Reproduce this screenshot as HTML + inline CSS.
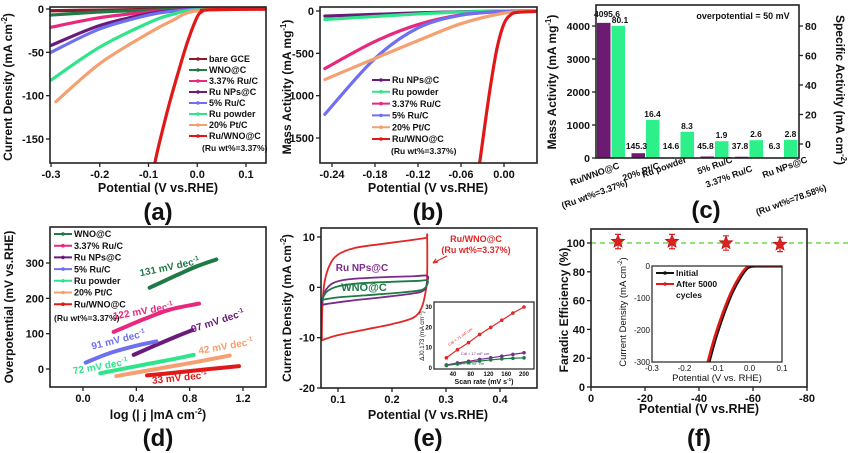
<!DOCTYPE html>
<html><head><meta charset="utf-8"><style>
html,body{margin:0;padding:0;background:#fff;}
svg{display:block;font-family:"Liberation Sans",Arial,sans-serif;font-weight:bold;}
</style></head><body>
<svg id="fig" width="848" height="453" viewBox="0 0 848 453" xmlns="http://www.w3.org/2000/svg">
<rect x="0" y="0" width="848" height="453" fill="#fff"/>
</svg>
<script>
// ---------- Panel (a) data ----------
const aSeries = ["bare GCE","WNO@C","3.37% Ru/C","Ru NPs@C","5% Ru/C","Ru powder","20% Pt/C","Ru/WNO@C"];
const aColors = ["#8b1a2a","#1f7a45","#e8287f","#6a1b7a","#6f6ff0","#2ee58a","#f4a070","#e01818"];
const aPotentials = [
 [-0.3,-0.2,-0.1,0,0.14],
 [-0.3,-0.2,-0.1,0,0.14],
 [-0.3,-0.2,-0.1,-0.05,0,0.14],
 [-0.3,-0.2,-0.1,-0.05,0,0.14],
 [-0.3,-0.2,-0.1,-0.05,0,0.14],
 [-0.3,-0.2,-0.1,-0.05,0,0.14],
 [-0.29,-0.2,-0.1,-0.05,0,0.14],
 [-0.087,-0.08,-0.06,-0.04,-0.02,0,0.01,0.02,0.14]];
const aCurrents = [
 [-2,-1.2,-0.6,-0.2,0],
 [-7,-3.5,-1.5,-0.3,0],
 [-21,-10,-3.5,-1.5,-0.3,0],
 [-42,-19,-5.5,-2,-0.3,0],
 [-50,-23,-7,-2.5,-0.4,0],
 [-82,-44,-16,-6,-1,0],
 [-107,-63,-28,-13,-2,0],
 [-178,-160,-115,-75,-38,-9,-3,-1,0]];
const aXTicks = [-0.3,-0.2,-0.1,0.0,0.1];
const aYTicks = [0,-50,-100,-150];

// ---------- Panel (b) data ----------
const bSeries = ["Ru NPs@C","Ru powder","3.37% Ru/C","5% Ru/C","20% Pt/C","Ru/WNO@C"];
const bColors = ["#6a1b7a","#2ee58a","#e8287f","#6f6ff0","#f4a070","#e01818"];
const bPotentials = [
 [-0.25,-0.18,-0.12,-0.06,0,0.046],
 [-0.25,-0.18,-0.12,-0.06,0,0.046],
 [-0.25,-0.18,-0.12,-0.06,0,0.046],
 [-0.25,-0.18,-0.12,-0.06,0,0.046],
 [-0.25,-0.18,-0.12,-0.06,0,0.046],
 [-0.034,-0.03,-0.02,-0.01,0,0.01,0.02,0.046]];
const bActivities = [
 [-60,-40,-22,-8,-1,0],
 [-100,-65,-35,-12,-2,0],
 [-680,-360,-160,-45,-6,0],
 [-1220,-560,-200,-50,-5,0],
 [-810,-560,-350,-150,-25,0],
 [-1795,-1550,-950,-450,-150,-40,-15,-5]];
const bXTicks = [-0.24,-0.18,-0.12,-0.06,0.00];
const bYTicks = [0,-500,-1000,-1500];

// ---------- Panel (c) data ----------
const cCategories = ["Ru/WNO@C","20% Pt/C","Ru powder","5% Ru/C","3.37% Ru/C","Ru NPs@C"];
const cMass = [4095.6,145.3,14.6,45.8,37.8,6.3];
const cSpecific = [80.1,16.4,8.3,1.9,2.6,2.8];
const cMassLabels = ["4095.6","145.3","14.6","45.8","37.8","6.3"];
const cSpecLabels = ["80.1","16.4","8.3","1.9","2.6","2.8"];
const cLeftTicks = [0,1000,2000,3000,4000];
const cRightTicks = [0,20,40,60,80];

// ---------- Panel (d) data ----------
const dSeries = ["WNO@C","3.37% Ru/C","Ru NPs@C","5% Ru/C","Ru powder","20% Pt/C","Ru/WNO@C"];
const dColors = ["#1f7a45","#e8287f","#6a1b7a","#6f6ff0","#2ee58a","#f4a070","#e01818"];
const dLogJ = [
 [0.5,0.7,0.85,1.0],
 [0.23,0.45,0.65,0.87],
 [0.38,0.55,0.7,0.82],
 [0.02,0.2,0.4,0.55],
 [0.13,0.4,0.65,0.83],
 [0.25,0.55,0.85,1.1],
 [0.48,0.7,0.95,1.17]];
const dEta = [
 [230,265,290,310],
 [105,140,168,185],
 [40,68,92,110],
 [18,45,66,78],
 [-12,8,26,40],
 [-20,0,20,38],
 [-18,-10,0,8]];
const dSlopeLabels = ["131 mV dec","122 mV dec","97 mV dec","91 mV dec","72 mV dec","42 mV dec","33 mV dec"];
const dLabelX = [0.43,0.23,0.82,0.07,-0.07,0.87,0.52];
const dLabelY = [262,140,103,55,-15,42,-42];
const dLabelAngle = [-12,-10,-18,-14,-10,-10,-6];
const dXTicks = [0.0,0.4,0.8,1.2];
const dYTicks = [0,100,200,300];

// ---------- Panel (e) data ----------
const eSeries = ["Ru/WNO@C","Ru NPs@C","WNO@C"];
const eColors = ["#e02828","#7a2a8a","#1f7a45"];
const ePotentials = [
 [0.07,0.071,0.075,0.085,0.1,0.13,0.18,0.23,0.262,0.265,0.265,0.262,0.255,0.24,0.2,0.15,0.1,0.07,0.07],
 [0.07,0.075,0.09,0.12,0.18,0.24,0.265,0.265,0.26,0.24,0.18,0.12,0.08,0.07],
 [0.07,0.08,0.1,0.14,0.2,0.25,0.265,0.265,0.255,0.22,0.15,0.1,0.075,0.07]];
const eCurrents = [
 [-10.5,-4,1,4.5,6.5,7.8,8.6,9.3,9.8,10,2,-1,-4,-6,-7.3,-8.4,-9.5,-10.5,-10.5],
 [-3.5,-1,0.8,1.6,2,2.2,2.3,1,-0.5,-1.2,-2,-2.7,-3.3,-3.5],
 [-2.5,-0.8,0.2,0.8,1.1,1.3,1.4,0.5,-0.5,-1,-1.6,-2,-2.4,-2.5]];
const eXTicks = [0.1,0.2,0.3,0.4];
const eYTicks = [10,0,-10,-20];
const eScanRates = [25,50,75,100,125,150,175,200];
const eDeltaJ = [
 [5,9,12.5,16.5,20,23.5,27,30],
 [1.5,2.5,3.3,4.2,5,5.8,6.7,7.5],
 [1.2,2,2.7,3.4,4,4.5,4.8,5]];
const eInsetXTicks = [40,80,120,160,200];
const eInsetYTicks = [0,10,20,30];
const eCdlLabels = ["Cdl = 71 mF cm","Cdl = 17 mF cm","Cdl = 10 mF cm"];

// ---------- Panel (f) data ----------
const fPotentials = [-10,-30,-50,-70];
const fEfficiency = [101,101,100,99];
const fErrors = [5,5,5,5];
const fXTicks = [0,-20,-40,-60,-80];
const fYTicks = [0,20,40,60,80,100];
const fInsetSeries = ["Initial","After 5000 cycles"];
const fInsetColors = ["#111","#e01818"];
const fInsetPot = [
 [-0.122,-0.1,-0.075,-0.05,-0.025,-0.005,0.01,0.03,0.1],
 [-0.127,-0.105,-0.08,-0.055,-0.03,-0.01,0.005,0.03,0.1]];
const fInsetCur = [
 [-300,-220,-145,-82,-35,-8,-1,0,0],
 [-300,-220,-145,-82,-35,-8,-1,0,0]];
const fInsetXTicks = [-0.3,-0.2,-0.1,0.0,0.1];
const fInsetYTicks = [0,-100,-200,-300];

// ---------- helpers ----------
const NS = "http://www.w3.org/2000/svg";
const svg = document.getElementById('fig');
function mk(tag, attrs, parent, name, inter) {
  const el = document.createElementNS(NS, tag);
  for (const k in attrs) el.setAttribute(k, attrs[k]);
  
  
  (parent || svg).appendChild(el);
  return el;
}
function txt(x, y, s, size, opts, name) {
  opts = opts || {};
  const a = {x:x, y:y, 'font-size':size, fill:opts.fill||'#111', 'text-anchor':opts.anchor||'middle'};
  if (opts.transform) a.transform = opts.transform;
  if (opts.weight) a['font-weight'] = opts.weight;
  const t = mk('text', a, opts.parent, name || 'label');
  t.textContent = s;
  if (opts.sup) {
    const sp = mk('tspan', {'font-size': size*0.65, dy: -size*0.4}, t, 'superscript');
    sp.textContent = opts.sup;
    if (opts.after) { const af = mk('tspan', {dy: size*0.4}, t, 'label-suffix'); af.textContent = opts.after; }
  }
  return t;
}
function scale(d0, d1, r0, r1) { return v => r0 + (v - d0) * (r1 - r0) / (d1 - d0); }
function smoothPath(pts) {
  if (pts.length < 3) return 'M' + pts.map(p => p.join(',')).join('L');
  let d = 'M' + pts[0][0] + ',' + pts[0][1];
  for (let i = 0; i < pts.length - 1; i++) {
    const p0 = pts[i-1] || pts[i], p1 = pts[i], p2 = pts[i+1], p3 = pts[i+2] || p2;
    const c1 = [p1[0] + (p2[0]-p0[0])/6, p1[1] + (p2[1]-p0[1])/6];
    const c2 = [p2[0] - (p3[0]-p1[0])/6, p2[1] - (p3[1]-p1[1])/6];
    d += 'C' + c1.join(',') + ' ' + c2.join(',') + ' ' + p2.join(',');
  }
  return d;
}
let clipId = 0;
function frame(box, name) {
  const id = 'clip' + (clipId++);
  const defs = mk('defs', {}, svg, 'clip-defs');
  const cp = mk('clipPath', {id:id}, defs, 'clip-path');
  mk('rect', {x:box.x0, y:box.y0, width:box.x1-box.x0, height:box.y1-box.y0}, cp, 'clip-rect');
  const g = mk('g', {'clip-path':'url(#'+id+')'}, svg, name + '-plot-area');
  return g;
}
function border(box, name, w) {
  mk('rect', {x:box.x0, y:box.y0, width:box.x1-box.x0, height:box.y1-box.y0, fill:'none', stroke:'#222', 'stroke-width':w||1.6}, svg, name + '-frame');
}
function xTicks(box, sx, ticks, fmt, size, name) {
  ticks.forEach(t => {
    const x = sx(t);
    mk('line', {x1:x, x2:x, y1:box.y1, y2:box.y1+4, stroke:'#222', 'stroke-width':1.3}, svg, name + '-x-tick');
    txt(x, box.y1 + size + 4, fmt(t), size, {}, name + '-x-tick-label');
  });
}
function yTicks(box, sy, ticks, fmt, size, name, right) {
  ticks.forEach(t => {
    const y = sy(t);
    const x = right ? box.x1 : box.x0;
    mk('line', {x1:x, x2: right ? x+4 : x-4, y1:y, y2:y, stroke:'#222', 'stroke-width':1.3}, svg, name + '-y-tick');
    txt(right ? x+6 : x-6, y + size*0.36, fmt(t), size, {anchor: right ? 'start' : 'end'}, name + '-y-tick-label');
  });
}
function legendEntry(x, y, color, label, size, name) {
  mk('line', {x1:x, x2:x+18, y1:y, y2:y, stroke:color, 'stroke-width':2}, svg, name + '-legend-line');
  mk('circle', {cx:x+9, cy:y, r:1.8, fill:color}, svg, name + '-legend-marker');
  txt(x+20, y+size*0.36, label, size, {anchor:'start'}, name + '-legend-text');
}

// ================= Panel (a) =================
(function(){
  const box = {x0:50, x1:266, y0:7, y1:163};
  const sx = scale(-0.3, 0.1, 51, 246);
  const sy = scale(0, -150, 9, 139);
  const g = frame(box, 'panel-a');
  aSeries.forEach((s, i) => {
    const pts = aPotentials[i].map((p, j) => [sx(p), sy(aCurrents[i][j])]);
    mk('path', {d:smoothPath(pts), fill:'none', stroke:aColors[i], 'stroke-width':3.2, 'stroke-linecap':'round'}, g, 'panel-a-curve');
  });
  border(box, 'panel-a');
  xTicks(box, sx, aXTicks, t => t === 0 ? '0.0' : t.toFixed(1), 11, 'panel-a');
  yTicks(box, sy, aYTicks, t => String(t), 11, 'panel-a');
  aSeries.forEach((s, i) => legendEntry(189, 59 + i*11, aColors[i], s, 9, 'panel-a'));
  txt(202, 151, '(Ru wt%=3.37%)', 8.5, {anchor:'start'}, 'panel-a-legend-note');
  txt(12, 87, 'Current Density (mA cm', 12, {transform:'rotate(-90 12 87)', sup:'-2', after:')'}, 'panel-a-y-axis-title');
  txt(158, 192, 'Potential (V vs.RHE)', 12.5, {}, 'panel-a-x-axis-title');
  txt(158, 220, '(a)', 24, {}, 'panel-a-letter');
})();

// ================= Panel (b) =================
(function(){
  const box = {x0:320, x1:537, y0:7, y1:163};
  const sx = scale(-0.24, 0, 332, 504);
  const sy = scale(0, -1500, 11, 138);
  const g = frame(box, 'panel-b');
  bSeries.forEach((s, i) => {
    const pts = bPotentials[i].map((p, j) => [sx(p), sy(bActivities[i][j])]);
    mk('path', {d:smoothPath(pts), fill:'none', stroke:bColors[i], 'stroke-width':3.2, 'stroke-linecap':'round'}, g, 'panel-b-curve');
  });
  border(box, 'panel-b');
  xTicks(box, sx, bXTicks, t => t.toFixed(2), 11, 'panel-b');
  yTicks(box, sy, bYTicks, t => String(t), 11, 'panel-b');
  bSeries.forEach((s, i) => legendEntry(372, 80 + i*11.8, bColors[i], s, 9, 'panel-b'));
  txt(391, 154, '(Ru wt%=3.37%)', 8.5, {anchor:'start'}, 'panel-b-legend-note');
  txt(291, 87, 'Mass Activity (mA mg', 12, {transform:'rotate(-90 291 87)', sup:'-1', after:')'}, 'panel-b-y-axis-title');
  txt(428, 192, 'Potential (V vs.RHE)', 12.5, {}, 'panel-b-x-axis-title');
  txt(428, 220, '(b)', 24, {}, 'panel-b-letter');
})();

// ================= Panel (c) =================
(function(){
  const box = {x0:596, x1:799, y0:5, y1:158};
  const syL = scale(0, 4000, 158, 26);
  const syR = scale(0, 80, 144, 26);
  const cx = i => 611 + i*34.5;
  cCategories.forEach((c, i) => {
    const yP = syL(cMass[i]);
    mk('rect', {x:cx(i)-14, y:yP, width:13.5, height:box.y1-yP, fill:'#6d1a72'}, svg, 'mass-activity-bar');
    const yG = syR(cSpecific[i]);
    mk('rect', {x:cx(i)+0.5, y:yG, width:13.5, height:box.y1-yG, fill:'#2ef08a'}, svg, 'specific-activity-bar');
    txt(i === 0 ? cx(i)-4 : cx(i)-9, (i === 0 ? 17 : Math.min(yP, 152) - 3), cMassLabels[i], 8.5, {}, 'mass-value-label');
    txt(i === 0 ? cx(i)+9 : cx(i)+7, yG - 3, cSpecLabels[i], 8.5, {}, 'specific-value-label');
  });
  border(box, 'panel-c');
  yTicks(box, syL, cLeftTicks, t => String(t), 10.5, 'panel-c-left');
  yTicks(box, syR, cRightTicks, t => String(t), 10.5, 'panel-c-right', true);
  txt(743, 19, 'overpotential = 50 mV', 9, {}, 'overpotential-note');
  txt(556, 82, 'Mass Activity (mA mg', 12, {transform:'rotate(-90 556 82)', sup:'-1', after:')'}, 'panel-c-left-axis-title');
  txt(836, 90, 'Specific Activity (mA cm', 12, {transform:'rotate(90 836 90)', sup:'-2', after:')'}, 'panel-c-right-axis-title');
  const cl = [[620,168,'Ru/WNO@C'],[628,185,'(Ru wt%=3.37%)'],[660,168,'20% Pt/C'],[687,162,'Ru powder'],[733,162,'5% Ru/C'],[753,171,'3.37% Ru/C'],[808,162,'Ru NPs@C'],[827,190,'(Ru wt%=78.58%)']];
  cl.forEach(l => txt(l[0], l[1], l[2], 9, {anchor:'end', transform:'rotate(-20 '+l[0]+' '+l[1]+')'}, 'category-label'));
  txt(706, 218, '(c)', 24, {}, 'panel-c-letter');
})();

// ================= Panel (d) =================
(function(){
  const box = {x0:50, x1:266, y0:227, y1:387};
  const sx = scale(0, 1.2, 83, 243);
  const sy = scale(0, 300, 369, 263);
  const g = frame(box, 'panel-d');
  dSeries.forEach((s, i) => {
    const pts = dLogJ[i].map((p, j) => [sx(p), sy(dEta[i][j])]);
    mk('path', {d:smoothPath(pts), fill:'none', stroke:dColors[i], 'stroke-width':4, 'stroke-linecap':'round'}, g, 'tafel-line');
    const lx = sx(dLabelX[i]), ly = sy(dLabelY[i]);
    txt(lx, ly, dSlopeLabels[i], 10, {anchor:'start', fill:dColors[i], transform:'rotate('+dLabelAngle[i]+' '+lx+' '+ly+')', sup:'-1', parent:g}, 'tafel-slope-label');
  });
  border(box, 'panel-d');
  xTicks(box, sx, dXTicks, t => t.toFixed(1), 11, 'panel-d');
  yTicks(box, sy, dYTicks, t => String(t), 11, 'panel-d');
  dSeries.forEach((s, i) => legendEntry(54, 234 + i*11.7, dColors[i], s, 9, 'panel-d'));
  txt(54, 321, '(Ru wt%=3.37%)', 8.5, {anchor:'start'}, 'panel-d-legend-note');
  txt(13, 307, 'Overpotential (mV vs.RHE)', 12, {transform:'rotate(-90 13 307)'}, 'panel-d-y-axis-title');
  txt(158, 419, 'log (| j |mA cm', 12.5, {sup:'-2', after:')'}, 'panel-d-x-axis-title');
  txt(158, 446, '(d)', 24, {}, 'panel-d-letter');
})();

// ================= Panel (e) =================
(function(){
  const box = {x0:321, x1:537, y0:228, y1:388};
  const sx = scale(0.1, 0.4, 338, 500);
  const sy = scale(10, -20, 237, 388);
  const g = frame(box, 'panel-e');
  eSeries.forEach((s, i) => {
    const pts = ePotentials[i].map((p, j) => [sx(p), sy(eCurrents[i][j])]);
    mk('path', {d:smoothPath(pts), fill:'none', stroke:eColors[i], 'stroke-width':1.8}, g, 'cv-curve');
  });
  border(box, 'panel-e');
  xTicks(box, sx, eXTicks, t => t.toFixed(1), 11, 'panel-e');
  yTicks(box, sy, eYTicks, t => String(t), 11, 'panel-e');
  txt(476, 242, 'Ru/WNO@C', 9, {fill:'#e02828'}, 'cv-label-ru-wno');
  txt(476, 253, '(Ru wt%=3.37%)', 9, {fill:'#e02828'}, 'cv-label-ru-wno-note');
  mk('path', {d:'M447,256 L433,263 M433,263 l5,-1 M433,263 l3,-4', stroke:'#e02828', 'stroke-width':1.2, fill:'none'}, svg, 'cv-label-arrow');
  txt(362, 271, 'Ru NPs@C', 10, {fill:'#7a2a8a'}, 'cv-label-ru-nps');
  txt(364, 291, 'WNO@C', 11, {fill:'#1f7a45'}, 'cv-label-wno');
  // inset
  const ib = {x0:434, x1:534, y0:302, y1:369};
  mk('rect', {x:ib.x0, y:ib.y0, width:100, height:67, fill:'#fff'}, svg, 'inset-e-background');
  const ix = scale(40, 200, 453, 524);
  const iy = scale(0, 30, 368, 307);
  eDeltaJ.forEach((arr, i) => {
    const pts = eScanRates.map((r, j) => [ix(r), iy(arr[j])]);
    mk('polyline', {points:pts.map(p => p.join(',')).join(' '), fill:'none', stroke:eColors[i], 'stroke-width':1.2}, svg, 'inset-e-fit-line');
    pts.forEach(p => mk('circle', {cx:p[0], cy:p[1], r:1.8, fill:eColors[i]}, svg, 'inset-e-point'));
  });
  border(ib, 'inset-e', 1.2);
  eInsetXTicks.forEach(t => txt(ix(t), ib.y1 + 7, String(t), 6, {}, 'inset-e-x-tick-label'));
  eInsetYTicks.forEach(t => txt(ib.x0 - 2, iy(t) + 2, String(t), 6, {anchor:'end'}, 'inset-e-y-tick-label'));
  txt(484, 384, 'Scan rate (mV s', 7, {sup:'-1', after:')'}, 'inset-e-x-axis-title');
  txt(424, 336, 'ΔJ0.173 (mA cm', 6, {transform:'rotate(-90 424 336)', weight:'normal', sup:'-2', after:')'}, 'inset-e-y-axis-title');
  txt(461, 338, eCdlLabels[0], 4, {fill:eColors[0], transform:'rotate(-35 461 338)', weight:'normal'}, 'inset-e-cdl-label');
  txt(475, 355, eCdlLabels[1], 4, {fill:eColors[1], weight:'normal'}, 'inset-e-cdl-label');
  txt(470, 365, eCdlLabels[2], 4, {fill:eColors[2], weight:'normal'}, 'inset-e-cdl-label');
  txt(291, 308, 'Current Density (mA cm', 12, {transform:'rotate(-90 291 308)', sup:'-2', after:')'}, 'panel-e-y-axis-title');
  txt(428, 419, 'Potential (V vs.RHE)', 12.5, {}, 'panel-e-x-axis-title');
  txt(428, 446, '(e)', 24, {}, 'panel-e-letter');
})();

// ================= Panel (f) =================
(function(){
  const box = {x0:591, x1:807, y0:229, y1:387};
  const sx = scale(0, -80, 591, 807);
  const sy = scale(0, 100, 387, 243);
  mk('line', {x1:box.x0, x2:848, y1:sy(100), y2:sy(100), stroke:'#6fdc4a', 'stroke-width':1.6, 'stroke-dasharray':'5,4'}, svg, 'reference-100-line');
  border(box, 'panel-f');
  xTicks(box, sx, fXTicks, t => String(t), 11, 'panel-f');
  yTicks(box, sy, fYTicks, t => String(t), 11, 'panel-f');
  fPotentials.forEach((p, i) => {
    const x = sx(p), y = sy(fEfficiency[i]);
    const yt = sy(fEfficiency[i] + fErrors[i]), yb = sy(fEfficiency[i] - fErrors[i]);
    mk('path', {d:'M'+x+','+yt+'V'+yb+'M'+(x-3)+','+yt+'H'+(x+3)+'M'+(x-3)+','+yb+'H'+(x+3), stroke:'#e02020', 'stroke-width':1.2, fill:'none'}, svg, 'efficiency-error-bar');
    const star = [];
    for (let k = 0; k < 10; k++) {
      const r = k % 2 === 0 ? 7 : 3;
      const a = -Math.PI/2 + k*Math.PI/5;
      star.push((x + r*Math.cos(a)).toFixed(1) + ',' + (y + r*Math.sin(a)).toFixed(1));
    }
    mk('polygon', {points:star.join(' '), fill:'#e02020', stroke:'#b01010', 'stroke-width':0.6}, svg, 'efficiency-star');
  });
  // inset
  const ib = {x0:652, x1:782, y0:266, y1:362};
  const ix = scale(-0.3, 0.1, 652, 782);
  const iy = scale(0, -300, 266, 362);
  const g = frame(ib, 'inset-f');
  [1, 0].forEach(i => {
    const pts = fInsetPot[i].map((p, j) => [ix(p), iy(fInsetCur[i][j])]);
    mk('path', {d:smoothPath(pts), fill:'none', stroke:fInsetColors[i], 'stroke-width':i === 1 ? 3.5 : 1.4}, g, 'inset-f-curve');
  });
  border(ib, 'inset-f', 1.2);
  fInsetXTicks.forEach(t => txt(ix(t), ib.y1 + 9, t === 0 ? '0.0' : t.toFixed(1), 8, {weight:'normal'}, 'inset-f-x-tick-label'));
  fInsetYTicks.forEach(t => txt(ib.x0 - 2, iy(t) + 3, String(t), 8, {anchor:'end', weight:'normal'}, 'inset-f-y-tick-label'));
  legendEntry(656, 273, '#111', 'Initial', 8.5, 'inset-f');
  legendEntry(656, 284, '#e01818', 'After 5000', 8.5, 'inset-f');
  txt(676, 298, 'cycles', 8.5, {anchor:'start'}, 'inset-f-legend-text');
  txt(717, 381, 'Potential (V vs. RHE)', 9.5, {weight:'normal'}, 'inset-f-x-axis-title');
  txt(626, 312, 'Current Density (mA cm', 9.5, {transform:'rotate(-90 626 312)', weight:'normal', sup:'-2', after:')'}, 'inset-f-y-axis-title');
  txt(568, 310, 'Faradic Efficiency (%)', 12, {transform:'rotate(-90 568 310)'}, 'panel-f-y-axis-title');
  txt(699, 413, 'Potential (V vs.RHE)', 12.5, {}, 'panel-f-x-axis-title');
  txt(699, 446, '(f)', 24, {}, 'panel-f-letter');
})();
</script>
</body></html>
